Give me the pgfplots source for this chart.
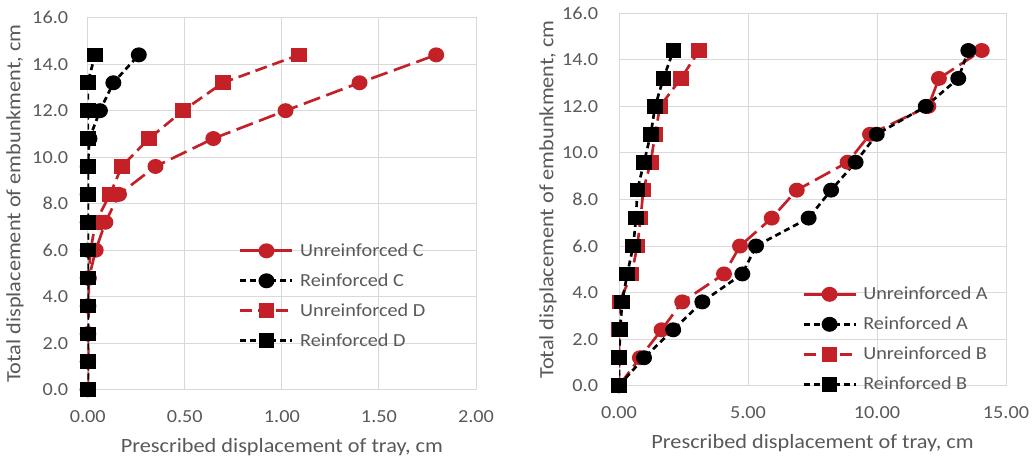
\documentclass[border=0pt]{standalone}
\usepackage{fontspec}
\setmainfont{Carlito}[FakeStretch=1.1]
\usepackage{pgfplots}
\pgfplotsset{compat=1.18}
\definecolor{myred}{RGB}{196,32,40}
\definecolor{tgray}{RGB}{89,89,89}
\definecolor{ggray}{RGB}{217,217,217}
\pgfplotsset{
  base/.style={
    scale only axis,
    axis line style={ggray, line width=0.75pt},
    grid=major, major grid style={ggray, line width=0.75pt},
    major tick length=0pt,
    ymin=0, ymax=16, ytick={0,2,...,16},
    tick label style={font=\fontsize{13.8}{16}\selectfont, text=tgray, inner sep=0pt},
    /pgf/number format/assume math mode=true,
    y tick label style={/pgf/number format/fixed, /pgf/number format/fixed zerofill, /pgf/number format/precision=1, anchor=east},
    x tick label style={/pgf/number format/fixed, /pgf/number format/fixed zerofill, /pgf/number format/precision=2, anchor=center, yshift=-20.25pt},
    label style={font=\fontsize{15.2}{18}\selectfont, text=tgray},
    xlabel style={at={(axis description cs:0.5,0)}, anchor=center, yshift=-43pt},
    legend style={draw=none, fill=none, anchor=north west, font=\fontsize{13.8}{16}\selectfont, text=tgray, row sep=11.4pt, nodes={inner sep=0pt}, /tikz/every odd column/.append style={column sep=4.8pt}},
    legend cell align=left,
    legend image code/.code={\draw[mark repeat=2,mark phase=2,#1] plot coordinates {(0pt,0pt)(19.5pt,0pt)(39pt,0pt)};},
  },
  lc/.style={line width=2pt, mark=*, mark size=4.6pt, mark options={solid, xscale=1.08}},
  ls/.style={line width=2pt, mark=square*, mark size=4.5pt, mark options={solid, xscale=1.08}},
  dlong/.style={dash pattern=on 13pt off 5pt},
  dmed/.style={dash pattern=on 9pt off 4.5pt},
  dshort/.style={dash pattern=on 4.5pt off 3pt},
}
\pgfplotstableread{
y    UC     RC     UD     RD
0    0      0      0      0
1.2  0.002  0      0      0
2.4  0.003  0      0      0
3.6  0.004  0      0      0
4.8  0.006  0      0.004  0
6.0  0.041  0      0.015  0
7.2  0.091  0      0.040  0
8.4  0.161  0      0.115  0
9.6  0.349  0      0.175  0
10.8 0.647  0.009  0.316  0
12.0 1.019  0.063  0.491  0
13.2 1.400  0.132  0.696  0
14.4 1.795  0.263  1.089  0.038
}\lefttab
\pgfplotstableread{
y    UA     RA     UB     RB
0    0      0      0      0
1.2  0.81   0.97   0.00   0.00
2.4  1.65   2.10   0.00   0.05
3.6  2.45   3.23   0.02   0.12
4.8  4.07   4.78   0.49   0.32
6.0  4.69   5.31   0.71   0.55
7.2  5.92   7.35   0.84   0.66
8.4  6.89   8.22   0.94   0.71
9.6  8.86   9.17   1.23   0.97
10.8 9.73   9.99   1.40   1.23
12.0 11.99  11.89  1.59   1.40
13.2 12.40  13.15  2.40   1.72
14.4 14.06  13.54  3.11   2.11
}\righttab
\begin{document}
\begin{tikzpicture}[x=1pt,y=1pt]
\useasboundingbox (0,0) rectangle (776.25,342.75);
\begin{axis}[base, at={(65.8pt,50.5pt)}, anchor=south west, width=291.2pt, height=279pt,
  xmin=0, xmax=2, xtick={0,0.5,1,1.5,2},
  y tick label style={xshift=-14.5pt},
  xlabel={Prescribed displacement of tray, cm},
  ylabel={Total displacement of embunkment, cm},
  ylabel style={at={(axis description cs:-0.1872,0.5)}, anchor=center},
  legend style={at={(axis description cs:0.379,0.401)}}]
\addplot[lc, myred, dlong, legend image post style={solid}] table[x=UC, y=y] {\lefttab};
\addlegendentry{Unreinforced C}
\addplot[lc, black, dshort] table[x=RC, y=y] {\lefttab};
\addlegendentry{Reinforced C}
\addplot[ls, myred, dmed] table[x=UD, y=y] {\lefttab};
\addlegendentry{Unreinforced D}
\addplot[ls, black, dshort] table[x=RD, y=y] {\lefttab};
\addlegendentry{Reinforced D}
\end{axis}
\begin{axis}[base, at={(464.25pt,53.5pt)}, anchor=south west, width=290.25pt, height=279.3pt,
  xmin=0, xmax=15, xtick={0,5,10,15},
  y tick label style={xshift=-15.5pt},
  xlabel={Prescribed displacement of tray, cm},
  ylabel={Total displacement of embunkment, cm},
  ylabel style={at={(axis description cs:-0.1835,0.5)}, anchor=center},
  legend style={at={(axis description cs:0.4625,0.273)}}]
\addplot[lc, myred, dlong, legend image post style={solid}] table[x=UA, y=y] {\righttab};
\addlegendentry{Unreinforced A}
\addplot[lc, black, dshort] table[x=RA, y=y] {\righttab};
\addlegendentry{Reinforced A}
\addplot[ls, myred, dmed] table[x=UB, y=y] {\righttab};
\addlegendentry{Unreinforced B}
\addplot[ls, black, dshort] table[x=RB, y=y] {\righttab};
\addlegendentry{Reinforced B}
\end{axis}
\end{tikzpicture}
\end{document}
